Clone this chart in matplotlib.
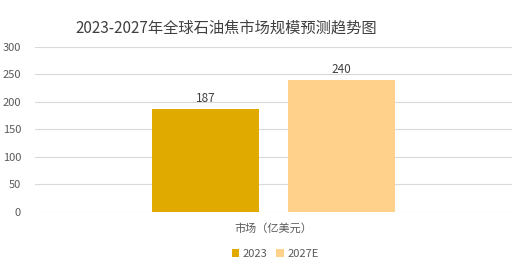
import matplotlib
matplotlib.use("Agg")
import matplotlib.pyplot as plt
from matplotlib.patches import Patch

plt.rcParams['font.family'] = ['Noto Sans CJK SC', 'DejaVu Sans']

title = "2023-2027年全球石油焦市场规模预测趋势图"
category = "市场（亿美元）"
series = ["2023", "2027E"]
values = [187, 240]
colors = ["#E1AA00", "#FFD18A"]
yticks = [0, 50, 100, 150, 200, 250, 300]

fig = plt.figure(figsize=(5.29, 2.71), dpi=100)
ax = fig.add_axes([0.066, 0.218, 0.902, 0.609])

width = 0.224
offsets = [-0.1426, 0.1426]
for s, v, c, o in zip(series, values, colors, offsets):
    ax.bar(o, v, width=width, color=c, zorder=3)
    ax.text(o, v + 7, str(v), ha='center', va='bottom', fontsize=8.5, color='#404040')

ax.set_xlim(-0.5, 0.5)
ax.set_ylim(0, 300)
ax.set_yticks(yticks)
ax.set_xticks([0])
ax.set_xticklabels([category], fontsize=9, color='#595959')
ax.tick_params(axis='both', length=0, labelsize=8, colors='#595959')
ax.tick_params(axis='y', pad=10)
ax.tick_params(axis='x', pad=8)
ax.grid(axis='y', color='#D9D9D9', linewidth=0.8, zorder=0)
for sp in ax.spines.values():
    sp.set_visible(False)

fig.text(0.428, 0.895, title, ha='center', va='center', fontsize=11, color='#404040')

handles = [Patch(facecolor=c, label=s) for s, c in zip(series, colors)]
fig.legend(handles=handles, loc='center', bbox_to_anchor=(0.52, 0.062), ncol=2, frameon=False,
           fontsize=8, handlelength=0.7, handleheight=0.7, handletextpad=0.3, columnspacing=0.8,
           labelcolor='#595959')

fig.savefig("out.png", dpi=100)
